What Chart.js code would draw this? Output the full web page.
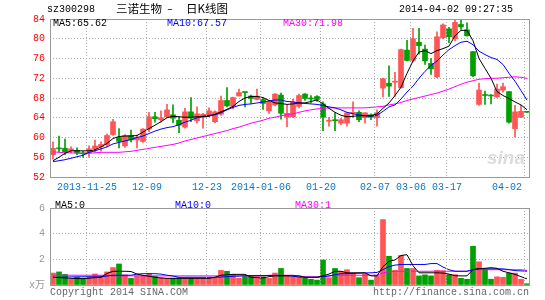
<!DOCTYPE html>
<html>
<head>
<meta charset="utf-8">
<script src="https://cdn.jsdelivr.net/npm/chart.js@4.4.1/dist/chart.umd.min.js"></script>
<style>
  body { margin: 0; background: #fff; width: 545px; height: 300px; position: relative; overflow: hidden;
         font-family: 'Liberation Mono', 'DejaVu Sans Mono', monospace; font-size: 10px; }
  canvas { position: absolute; left: 0; }
  .t { position: absolute; white-space: pre; line-height: 12px; }
  .cn { font-family: 'Noto Sans CJK SC'; font-size: 11.5px; line-height: 15px; top: 1px; }
</style>
</head>
<body>
<canvas id="kline" width="545" height="197" style="top:0"></canvas>
<canvas id="vol" width="545" height="103" style="top:197px"></canvas>

<div class="t" style="left:47px;top:4px">sz300298</div>
<div class="t cn" style="left:116px">三诺生物</div>
<div class="t" style="left:167px;top:4px">–</div>
<div class="t cn" style="left:186px">日K线图</div>
<div class="t" style="left:399px;top:4px">2014-04-02 09:27:35</div>

<div class="t" style="left:53px;top:18px;color:#000">MA5:65.62</div>
<div class="t" style="left:167px;top:18px;color:#0000ff">MA10:67.57</div>
<div class="t" style="left:283px;top:18px;color:#ff00ff">MA30:71.98</div>

<div class="t" style="left:55px;top:200px;color:#000">MA5:0</div>
<div class="t" style="left:175px;top:200px;color:#0000ff">MA10:0</div>
<div class="t" style="left:295px;top:200px;color:#ff00ff">MA30:1</div>

<div class="t" style="left:50px;top:287px;color:#666">Copyright 2014 SINA.COM</div>
<div class="t" style="left:373px;top:287px;color:#666">http://finance.sina.com.cn</div>
<div class="t" style="left:487px;top:148px;font-family:'Liberation Sans';font-size:19px;line-height:20px;font-weight:bold;font-style:italic;color:#dcdcdc">sina</div>

<script>
// x axis: trading days, only some carry a date label
const dayCount = 80;
const tickAt = [7, 17, 27, 36, 46, 55, 61, 67, 80];
const tickText = ['2013-11-25', '12-09', '12-23', '2014-01-06', '01-20', '02-07', '03-06', '03-17', '04-02'];

// daily candles (yuan)
const opens = [
  56.5, 57.9, 57.8, 57.3, 57.4, 56.9, 56.9, 57.7, 58.1, 58.5,
  60.6, 60.0, 58.3, 60.4, 59.5, 59.2, 61.7, 64.2, 63.6, 64.2,
  64.6, 63.5, 62.1, 65.2, 63.4, 64.1, 64.6, 63.2, 64.7, 67.5,
  66.3, 68.4, 69.2, 68.4, 67.7, 67.7, 65.4, 66.6, 68.6, 64.1,
  64.2, 66.3, 68.8, 67.9, 68.3, 66.8, 63.3, 63.5, 62.9, 62.9,
  64.9, 65.1, 64.0, 64.6, 64.0, 70.0, 71.0, 71.2, 70.1, 77.7,
  75.6, 79.3, 77.9, 75.0, 72.3, 80.2, 82.0, 80.0, 82.9, 81.8,
  77.4, 66.7, 68.6, 68.5, 68.2, 69.6, 69.3, 61.8, 64.1, 65.1
];
const closes = [
  57.8, 57.7, 57.1, 57.7, 56.9, 56.7, 57.7, 58.3, 58.6, 60.4,
  63.2, 59.2, 60.4, 59.5, 60.0, 61.7, 64.2, 63.8, 64.0, 65.6,
  63.9, 62.5, 65.2, 63.9, 64.8, 64.7, 65.4, 65.2, 67.5, 66.4,
  68.1, 69.1, 69.1, 67.9, 68.4, 66.9, 67.2, 68.8, 64.9, 64.9,
  67.2, 68.5, 67.9, 67.8, 67.7, 64.1, 63.4, 63.4, 63.6, 65.0,
  65.1, 63.6, 65.0, 64.1, 65.0, 71.9, 70.4, 71.3, 77.8, 75.6,
  80.0, 78.6, 75.5, 73.9, 80.4, 82.8, 80.4, 83.3, 82.4, 80.6,
  72.5, 69.6, 68.5, 68.4, 69.8, 70.3, 63.1, 65.2, 65.3, 65.1
];
const highs = [
  59.1, 60.3, 59.7, 58.1, 57.9, 57.2, 58.3, 59.5, 59.1, 60.7,
  63.7, 61.8, 60.6, 61.5, 60.5, 61.8, 65.1, 65.1, 65.4, 66.7,
  66.6, 64.2, 65.9, 68.1, 66.2, 64.9, 66.0, 65.4, 68.4, 70.1,
  68.2, 69.8, 69.2, 68.6, 69.8, 68.1, 67.5, 68.9, 69.0, 66.6,
  67.8, 68.8, 68.9, 68.5, 68.5, 67.2, 64.1, 65.0, 63.9, 65.0,
  67.2, 65.4, 65.0, 64.8, 65.6, 72.0, 74.5, 73.2, 77.9, 79.7,
  82.1, 82.1, 78.7, 76.0, 81.4, 83.0, 82.3, 84.0, 84.0, 83.2,
  77.4, 71.0, 69.4, 68.7, 70.8, 71.0, 69.3, 66.5, 66.5, 65.1
];
const lows = [
  55.6, 57.1, 56.5, 56.9, 56.5, 56.0, 56.0, 57.1, 57.3, 58.1,
  60.4, 57.9, 58.0, 59.1, 57.9, 59.0, 61.2, 63.1, 63.1, 64.0,
  63.0, 61.0, 61.9, 63.2, 62.9, 61.9, 64.2, 63.0, 64.5, 66.2,
  65.8, 68.4, 66.2, 66.9, 67.6, 65.7, 64.9, 66.4, 63.7, 62.2,
  64.0, 66.0, 67.5, 67.0, 67.3, 61.4, 62.3, 61.4, 62.6, 62.3,
  64.0, 63.2, 62.9, 63.6, 62.3, 68.2, 68.3, 68.3, 70.0, 75.5,
  75.3, 76.9, 74.8, 72.8, 72.1, 80.0, 79.2, 79.6, 81.9, 80.5,
  72.3, 66.5, 66.7, 66.8, 68.1, 69.2, 62.9, 60.1, 64.0, 65.1
];

// price moving averages as drawn
const ma5 = [
  55.3, 56.0, 56.8, 57.3, 57.3, 57.3, 57.3, 57.5, 58.1, 58.8,
  59.8, 60.2, 60.3, 60.3, 60.4, 61.1, 61.8, 62.5, 63.2, 64.0,
  64.3, 64.2, 64.1, 64.1, 64.2, 64.2, 64.3, 64.7, 65.2, 65.7,
  66.3, 67.3, 68.0, 68.3, 68.3, 68.1, 67.5, 67.0, 66.9, 66.7,
  66.8, 67.0, 67.0, 67.3, 67.6, 66.8, 65.9, 65.1, 64.5, 64.2,
  64.3, 64.4, 64.4, 64.4, 64.8, 65.9, 67.0, 68.5, 70.2, 73.0,
  75.5, 77.3, 77.6, 77.0, 77.6, 78.0, 78.5, 80.6, 81.7, 81.7,
  79.6, 76.0, 74.0, 72.0, 69.3, 68.5, 67.9, 67.2, 66.6, 65.62
];
const ma10 = [
  55.1, 55.3, 55.5, 55.8, 56.1, 56.4, 57.0, 57.3, 57.7, 58.1,
  58.7, 59.0, 59.3, 59.6, 60.0, 60.3, 60.8, 61.3, 61.7, 62.0,
  62.2, 62.6, 63.1, 63.5, 64.0, 64.3, 64.5, 64.6, 65.0, 65.6,
  66.1, 66.5, 66.7, 66.8, 67.0, 67.2, 67.4, 67.6, 67.6, 67.3,
  67.2, 67.0, 66.9, 66.8, 66.7, 66.5, 66.2, 66.0, 65.6, 65.1,
  64.8, 64.6, 64.4, 64.3, 64.5, 65.3, 66.2, 66.6, 67.8, 69.2,
  70.4, 72.0, 73.4, 74.6, 75.5, 76.7, 77.8, 78.6, 79.3, 79.5,
  78.8, 77.5, 76.8, 76.2, 75.8, 74.8, 73.0, 71.4, 69.5, 67.57
];
const ma30 = [
  57.1, 57.0, 56.9, 56.9, 56.8, 56.8, 56.8, 56.9, 57.0, 57.0,
  57.0, 57.0, 57.1, 57.2, 57.4, 57.6, 57.8, 58.0, 58.2, 58.4,
  58.6, 58.9, 59.3, 59.6, 59.9, 60.2, 60.5, 60.8, 61.1, 61.4,
  61.8, 62.1, 62.5, 62.9, 63.2, 63.5, 63.9, 64.1, 64.4, 64.6,
  64.8, 65.1, 65.4, 65.6, 65.8, 65.9, 66.0, 66.0, 66.0, 66.0,
  66.0, 66.0, 66.0, 66.1, 66.2, 66.3, 66.6, 66.8, 67.1, 67.5,
  67.8, 68.1, 68.4, 68.7, 69.0, 69.4, 69.8, 70.3, 70.8, 71.2,
  71.5, 71.8, 71.9, 72.0, 72.0, 72.1, 72.2, 72.3, 72.2, 71.98
];

// volume in units of 10k shares, and its moving averages as drawn
const volumes = [
  0.93, 1.02, 0.83, 0.45, 0.60, 0.45, 0.64, 0.86, 0.74, 1.02,
  1.36, 1.64, 0.79, 0.52, 0.71, 0.71, 0.90, 0.67, 0.55, 0.52,
  0.52, 0.55, 0.52, 0.52, 0.52, 0.52, 0.52, 0.55, 1.14, 1.07,
  0.83, 0.52, 0.67, 0.67, 0.67, 0.64, 0.52, 0.93, 1.29, 0.71,
  0.60, 0.60, 0.52, 0.45, 0.38, 1.95, 0.57, 1.29, 1.05, 1.19,
  0.90, 0.57, 0.86, 0.38, 0.74, 5.10, 2.24, 1.14, 2.31, 1.29,
  1.29, 0.71, 0.79, 0.71, 1.14, 1.12, 0.81, 0.81, 0.52, 0.45,
  3.02, 1.81, 1.19, 0.45, 0.64, 0.60, 0.93, 0.93, 0.45, 0.10
];
const vma5 = [
  0.60, 0.58, 0.55, 0.52, 0.50, 0.50, 0.53, 0.57, 0.60, 0.90,
  1.07, 1.07, 1.07, 1.05, 0.85, 0.75, 0.68, 0.60, 0.55, 0.52,
  0.52, 0.52, 0.52, 0.52, 0.52, 0.52, 0.52, 0.60, 0.76, 0.80,
  0.83, 0.83, 0.83, 0.60, 0.58, 0.55, 0.65, 0.71, 0.71, 0.71,
  0.71, 0.71, 0.60, 0.60, 0.60, 0.71, 0.85, 1.07, 1.07, 0.95,
  0.95, 0.95, 0.95, 0.71, 0.71, 1.43, 1.85, 1.95, 2.30, 2.36,
  1.50, 0.95, 0.95, 0.95, 0.95, 0.93, 0.85, 0.72, 0.71, 0.71,
  1.20, 1.28, 1.30, 1.35, 1.30, 1.07, 0.95, 0.83, 0.65, 0.48
];
const vma10 = [
  0.60, 0.60, 0.62, 0.63, 0.64, 0.64, 0.64, 0.64, 0.64, 0.70,
  0.76, 0.76, 0.76, 0.76, 0.85, 0.88, 0.88, 0.88, 0.85, 0.76,
  0.70, 0.60, 0.60, 0.60, 0.60, 0.60, 0.60, 0.60, 0.62, 0.65,
  0.68, 0.70, 0.72, 0.74, 0.74, 0.74, 0.74, 0.74, 0.74, 0.74,
  0.68, 0.62, 0.60, 0.60, 0.60, 0.65, 0.71, 0.80, 0.88, 0.88,
  0.90, 0.92, 0.94, 0.95, 0.98, 1.20, 1.43, 1.55, 1.60, 1.60,
  1.60, 1.60, 1.60, 1.67, 1.67, 1.40, 1.19, 1.07, 1.07, 1.07,
  1.20, 1.26, 1.26, 1.26, 1.26, 1.26, 1.20, 1.12, 1.10, 1.07
];
const vma30 = [
  0.76, 0.76, 0.76, 0.76, 0.76, 0.76, 0.76, 0.76, 0.76, 0.76,
  0.71, 0.71, 0.71, 0.71, 0.71, 0.71, 0.71, 0.71, 0.71, 0.71,
  0.71, 0.71, 0.71, 0.71, 0.71, 0.71, 0.71, 0.71, 0.71, 0.71,
  0.71, 0.71, 0.71, 0.71, 0.71, 0.71, 0.76, 0.76, 0.76, 0.76,
  0.76, 0.70, 0.64, 0.64, 0.64, 0.64, 0.70, 0.76, 0.76, 0.76,
  0.76, 0.76, 0.76, 0.76, 0.76, 0.95, 1.02, 1.07, 1.07, 1.07,
  1.07, 1.07, 1.07, 1.07, 1.07, 1.07, 1.07, 1.07, 1.07, 1.07,
  1.19, 1.19, 1.19, 1.19, 1.19, 1.19, 1.19, 1.19, 1.19, 1.14
];

const UP = '#ff5555';
const DOWN = '#00a000';
const GRID = '#a8a8a8';
const MONO = "'Liberation Mono', 'DejaVu Sans Mono', 'Noto Sans CJK SC', monospace";

const days = Array.from({ length: dayCount }, (_, i) => i + 1);
const isUp = days.map((d, i) => closes[i] > opens[i]);
const candleColors = isUp.map(u => (u ? UP : DOWN));

// dotted lines at the labelled dates, then a grey box around the plot area
const frame = {
    id: 'frame',
    afterDraw(chart) {
        const ctx = chart.ctx;
        const a = chart.chartArea;
        const x = chart.scales.x;
        const half = (x.getPixelForValue(1) - x.getPixelForValue(0)) / 2;
        ctx.save();
        ctx.strokeStyle = GRID;
        ctx.lineWidth = 1;
        ctx.setLineDash([1, 2]);
        tickAt.forEach((d) => {
            const px = Math.round(x.getPixelForValue(d - 1) - half) + 0.5;
            ctx.beginPath();
            ctx.moveTo(px, Math.round(a.top));
            ctx.lineTo(px, Math.round(a.bottom));
            ctx.stroke();
        });
        ctx.setLineDash([]);
        ctx.strokeStyle = '#999';
        ctx.strokeRect(Math.round(a.left) + 0.5, Math.round(a.top) + 0.5,
            Math.round(a.right - a.left) - 1, Math.round(a.bottom - a.top));
        ctx.restore();
    }
};

const maLine = (label, data, color) => ({
    type: 'line',
    label,
    data,
    borderColor: color,
    borderWidth: 1,
    pointRadius: 0,
    tension: 0,
    order: 0
});

new Chart(document.getElementById('kline'), {
    type: 'bar',
    data: {
        labels: days,
        datasets: [
            maLine('MA5', ma5, '#000000'),
            maLine('MA10', ma10, '#0000ff'),
            maLine('MA30', ma30, '#ff00ff'),
            {
                label: 'body',
                data: days.map((d, i) => [Math.min(opens[i], closes[i]), Math.max(opens[i], closes[i])]),
                backgroundColor: candleColors,
                barThickness: 5,
                minBarLength: 1,
                grouped: false,
                order: 1
            },
            {
                label: 'wick',
                data: days.map((d, i) => [lows[i], highs[i]]),
                backgroundColor: candleColors,
                barThickness: 1,
                grouped: false,
                order: 2
            }
        ]
    },
    options: {
        responsive: false,
        animation: false,
        layout: { padding: { top: 19, right: 15, left: 0, bottom: 0 } },
        plugins: { legend: { display: false }, tooltip: { enabled: false } },
        scales: {
            x: {
                offset: true,
                grid: { display: false, drawTicks: false },
                border: { display: false },
                afterFit: (s) => { s.height = 20; s.paddingLeft = 0; s.paddingRight = 0; },
                ticks: {
                    autoSkip: false,
                    maxRotation: 0,
                    padding: 4,
                    labelOffset: -2,
                    color: '#0b74c4',
                    font: { family: MONO, size: 10 },
                    callback: (v, i) => {
                        const k = tickAt.indexOf(i + 1);
                        if (k < 0) return '';
                        // the last date is pulled inside the plot's right edge
                        return i + 1 === dayCount ? tickText[k] + '      ' : tickText[k];
                    }
                }
            },
            y: {
                min: 52,
                max: 84,
                afterFit: (s) => { s.width = 50; },
                grid: { drawTicks: false, color: GRID },
                border: { display: false, dash: [1, 2] },
                ticks: {
                    stepSize: 4,
                    padding: 5,
                    color: '#ff0000',
                    font: { family: MONO, size: 10 }
                }
            }
        }
    },
    plugins: [frame]
});

new Chart(document.getElementById('vol'), {
    type: 'bar',
    data: {
        labels: days,
        datasets: [
            maLine('MA5', vma5, '#000000'),
            maLine('MA10', vma10, '#0000ff'),
            maLine('MA30', vma30, '#ff00ff'),
            {
                label: 'volume',
                data: volumes,
                backgroundColor: candleColors,
                barThickness: 5,
                order: 1
            }
        ]
    },
    options: {
        responsive: false,
        animation: false,
        layout: { padding: { top: 4, right: 15, left: 0, bottom: 15 } },
        plugins: { legend: { display: false }, tooltip: { enabled: false } },
        scales: {
            x: {
                offset: true,
                grid: { display: false, drawTicks: false },
                border: { display: false },
                afterFit: (s) => { s.height = 0; },
                ticks: { display: false }
            },
            y: {
                min: 0,
                max: 6,
                afterFit: (s) => { s.width = 50; },
                grid: { drawTicks: false, color: GRID },
                border: { display: false, dash: [1, 2] },
                ticks: {
                    stepSize: 2,
                    padding: 5,
                    color: '#999999',
                    font: { family: MONO, size: 10 },
                    callback: (v) => (v === 0 ? 'x万' : v)
                }
            }
        }
    },
    plugins: [frame]
});
</script>
</body>
</html>
